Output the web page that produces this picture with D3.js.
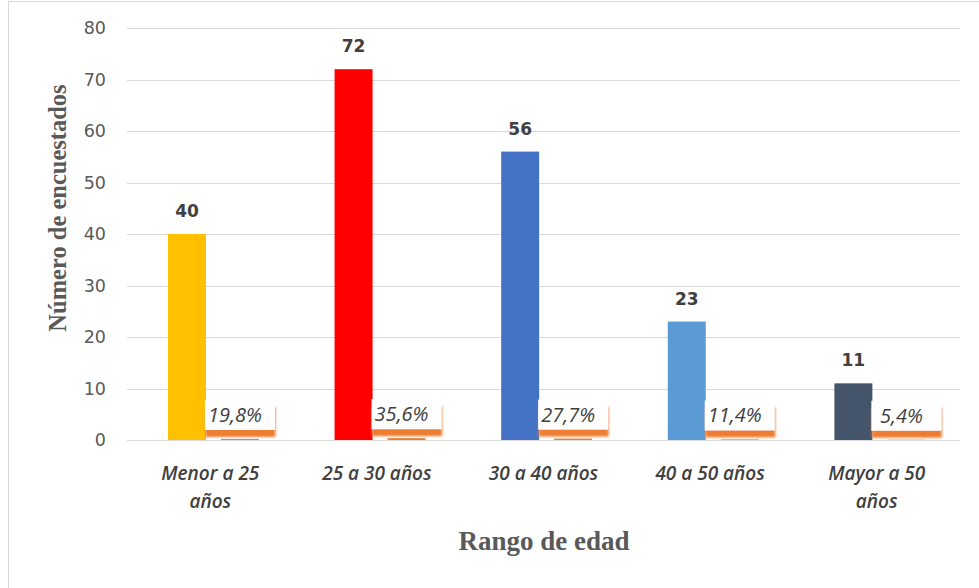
<!DOCTYPE html>
<html>
<head>
<meta charset="utf-8">
<script src="https://cdn.jsdelivr.net/npm/d3@7"></script>
<style>
  html, body { margin: 0; padding: 0; background: #fff; }
  svg { display: block; }
</style>
</head>
<body>
<div id="chart"></div>
<script>
// Age ranges and survey counts
const categories = ["Menor a 25 años", "25 a 30 años", "30 a 40 años", "40 a 50 años", "Mayor a 50 años"];
const labelLines = [["Menor a 25", "años"], ["25 a 30 años"], ["30 a 40 años"], ["40 a 50 años"], ["Mayor a 50", "años"]];
const counts = [40, 72, 56, 23, 11];
const shares = [0.198, 0.356, 0.277, 0.114, 0.054];
const shareLabels = ["19,8%", "35,6%", "27,7%", "11,4%", "5,4%"];
const barColors = ["#ffc000", "#ff0000", "#4472c4", "#5b9bd5", "#44546a"];
const yTicks = [0, 10, 20, 30, 40, 50, 60, 70, 80];
const series = ["count", "share"];

const W = 979, H = 588;
const plot = { left: 127, right: 960, top: 28, bottom: 440 };

const svg = d3.select("#chart").append("svg").attr("width", W).attr("height", H);

const defs = svg.append("defs");
const f = defs.append("filter").attr("id", "glow")
  .attr("x", "-20%").attr("y", "-20%").attr("width", "150%").attr("height", "180%");
f.append("feDropShadow").attr("dx", 0.5).attr("dy", 7).attr("stdDeviation", 1.2)
  .attr("flood-color", "#ed7d31").attr("flood-opacity", 1);

// chart frame
svg.append("rect").attr("x", 8.5).attr("y", 1.5).attr("width", W).attr("height", H + 10)
  .attr("fill", "#fff").attr("stroke", "#d9d9d9");

const y = d3.scaleLinear().domain([0, 80]).range([plot.bottom, plot.top]);
const x0 = d3.scaleBand().domain(categories).range([plot.left, plot.right]);
const cw = x0.bandwidth();
const x1 = d3.scaleBand().domain(series).range([cw * 0.246, cw * 0.792]).paddingInner(0.283);

// gridlines
svg.append("g").selectAll("line").data(yTicks).join("line")
  .attr("x1", plot.left).attr("x2", plot.right)
  .attr("y1", d => Math.round(y(d)) + 0.5).attr("y2", d => Math.round(y(d)) + 0.5)
  .attr("stroke", "#d9d9d9").attr("stroke-width", 1);

// y axis labels
const yAxis = d3.axisLeft(y).tickValues(yTicks).tickSize(0).tickPadding(0);
const ya = svg.append("g").attr("transform", `translate(106,0)`).call(yAxis);
ya.select(".domain").remove();
ya.selectAll("text").attr("font-family", "DejaVu Sans, Verdana, sans-serif")
  .attr("font-size", 17.5).attr("fill", "#595959");

// count bars
const groups = svg.append("g").selectAll("g").data(categories).join("g")
  .attr("transform", d => `translate(${x0(d)},0)`);

groups.append("rect")
  .attr("x", x1("count")).attr("width", x1.bandwidth())
  .attr("y", (d, i) => y(counts[i]))
  .attr("height", (d, i) => y(0) - y(counts[i]))
  .attr("fill", (d, i) => barColors[i]);

// share bars
groups.append("rect")
  .attr("x", x1("share")).attr("width", x1.bandwidth())
  .attr("y", (d, i) => y(shares[i]))
  .attr("height", (d, i) => y(0) - y(shares[i]))
  .attr("fill", "#ed7d31");

// count labels
groups.append("text")
  .attr("x", x1("count") + x1.bandwidth() / 2)
  .attr("y", (d, i) => y(counts[i]) - 17)
  .attr("text-anchor", "middle")
  .attr("font-family", "DejaVu Sans, Verdana, sans-serif")
  .attr("font-weight", "bold").attr("font-size", 17).attr("fill", "#404040")
  .text((d, i) => counts[i]);

// share label boxes
const boxW = 70, boxH = 30;
groups.append("rect")
  .attr("x", x1("share") + x1.bandwidth() / 2 - boxW / 2)
  .attr("y", (d, i) => y(shares[i]) - boxH - 9)
  .attr("width", boxW).attr("height", boxH)
  .attr("fill", "#fff").attr("filter", "url(#glow)");

groups.append("text")
  .attr("x", x1("share") + x1.bandwidth() / 2 - 5)
  .attr("y", (d, i) => y(shares[i]) - 17)
  .attr("text-anchor", "middle")
  .attr("font-family", "Open Sans, DejaVu Sans, sans-serif")
  .attr("font-style", "italic").attr("font-size", 20).attr("fill", "#404040")
  .text((d, i) => shareLabels[i]);

// category labels
const catText = groups.append("text")
  .attr("text-anchor", "middle")
  .attr("font-family", "Open Sans, Liberation Sans, sans-serif")
  .attr("font-style", "italic").attr("font-weight", 600)
  .attr("font-size", 19).attr("fill", "#404040")
  .attr("transform", `translate(${cw / 2},${plot.bottom + 40})`);
catText.selectAll("tspan").data((d, i) => labelLines[i]).join("tspan")
  .attr("x", 0).attr("dy", (d, j) => j === 0 ? 0 : 28).text(d => d);

// axis titles
svg.append("text").attr("x", 544).attr("y", 550).attr("text-anchor", "middle")
  .attr("font-family", "Liberation Serif, Times New Roman, serif")
  .attr("font-weight", "bold").attr("font-size", 27).attr("fill", "#595959")
  .text("Rango de edad");

svg.append("text").attr("transform", "translate(66,208) rotate(-90)").attr("text-anchor", "middle")
  .attr("font-family", "Liberation Serif, Times New Roman, serif")
  .attr("font-weight", "bold").attr("font-size", 24.5).attr("fill", "#595959")
  .text("Número de encuestados");
</script>
</body>
</html>
